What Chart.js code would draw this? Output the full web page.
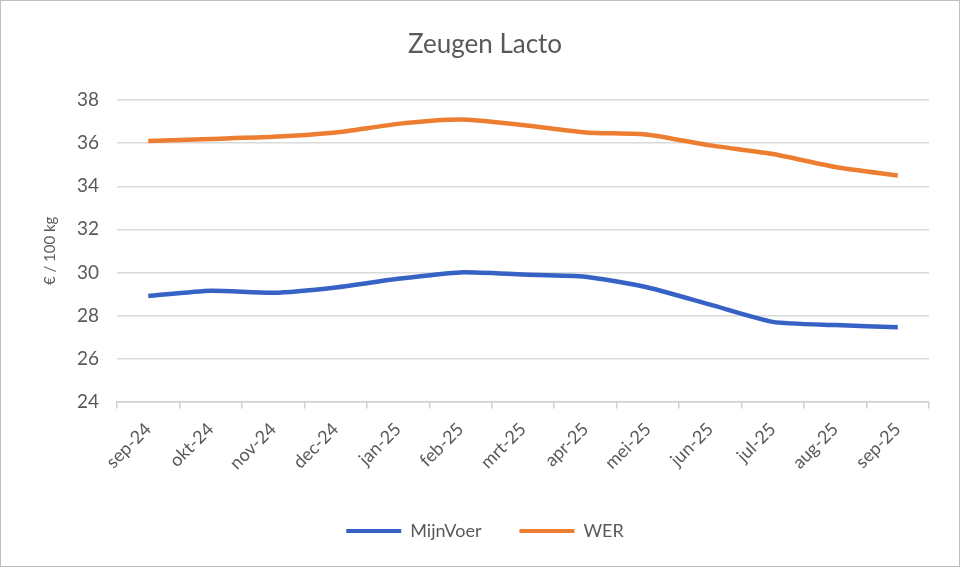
<!DOCTYPE html>
<html>
<head>
<meta charset="utf-8">
<script src="https://cdn.jsdelivr.net/npm/chart.js@4/dist/chart.umd.min.js"></script>
<style>
  html, body { margin: 0; padding: 0; background: #fff; }
  #wrap { width: 958px; height: 565px; border: 1px solid #bfbfbf; }
</style>
</head>
<body>
<div id="wrap"><canvas id="myChart"></canvas></div>
<script>
var months = ['sep-24', 'okt-24', 'nov-24', 'dec-24', 'jan-25', 'feb-25', 'mrt-25',
              'apr-25', 'mei-25', 'jun-25', 'jul-25', 'aug-25', 'sep-25'];
var mijnVoer = [28.9, 29.15, 29.05, 29.3, 29.7, 30.0, 29.9, 29.8, 29.3, 28.5, 27.7, 27.55, 27.45];
var wer = [36.1, 36.2, 36.3, 36.5, 36.9, 37.1, 36.85, 36.5, 36.4, 35.9, 35.5, 34.9, 34.5];
var yTicks = [24, 26, 28, 30, 32, 34, 36, 38];

var grey = '#595959';
Chart.defaults.font.family = 'Lato, "Open Sans", sans-serif';
Chart.defaults.color = grey;

var ctx = document.getElementById('myChart').getContext('2d');
var chart = new Chart(ctx, {
    type: 'line',
    data: {
        labels: months,
        datasets: [
            {
                label: 'MijnVoer',
                data: mijnVoer,
                borderColor: '#3562C4',
                backgroundColor: '#3562C4',
                borderWidth: 4.5,
                pointRadius: 0,
                tension: 0.2
            },
            {
                label: 'WER',
                data: wer,
                borderColor: '#ED7D31',
                backgroundColor: '#ED7D31',
                borderWidth: 4.5,
                pointRadius: 0,
                tension: 0.2
            }
        ]
    },
    options: {
        responsive: true,
        maintainAspectRatio: false,
        animation: false,
        layout: {
            padding: { left: 40, right: 30, top: 10, bottom: 16 }
        },
        scales: {
            x: {
                offset: true,
                grid: {
                    offset: true,
                    drawOnChartArea: false,
                    drawTicks: true,
                    tickLength: 7,
                    color: '#d0d0d0',
                    lineWidth: 1.5
                },
                border: { color: '#d0d0d0', width: 1.5 },
                ticks: {
                    minRotation: 45,
                    maxRotation: 45,
                    font: { size: 18 },
                    padding: 10
                }
            },
            y: {
                min: 24,
                max: 38,
                afterBuildTicks: function (axis) {
                    axis.ticks = yTicks.map(function (v) { return { value: v }; });
                },
                grid: {
                    color: '#d9d9d9',
                    lineWidth: 1.5,
                    drawTicks: false
                },
                border: { display: false },
                ticks: {
                    font: { size: 19 },
                    padding: 18
                },
                title: {
                    display: true,
                    text: '€ / 100 kg',
                    font: { size: 15 },
                    padding: 0
                }
            }
        },
        plugins: {
            title: {
                display: true,
                text: 'Zeugen Lacto',
                font: { size: 26, weight: 'normal' },
                color: grey,
                padding: { top: 18, bottom: 40 }
            },
            legend: {
                position: 'bottom',
                labels: {
                    boxWidth: 55,
                    boxHeight: 4,
                    font: { size: 18 },
                    padding: 38,
                    generateLabels: function (c) {
                        return Chart.defaults.plugins.legend.labels.generateLabels(c).map(function (l) {
                            l.lineWidth = 0;
                            return l;
                        });
                    }
                }
            },
            tooltip: { enabled: false }
        }
    }
});
</script>
</body>
</html>
